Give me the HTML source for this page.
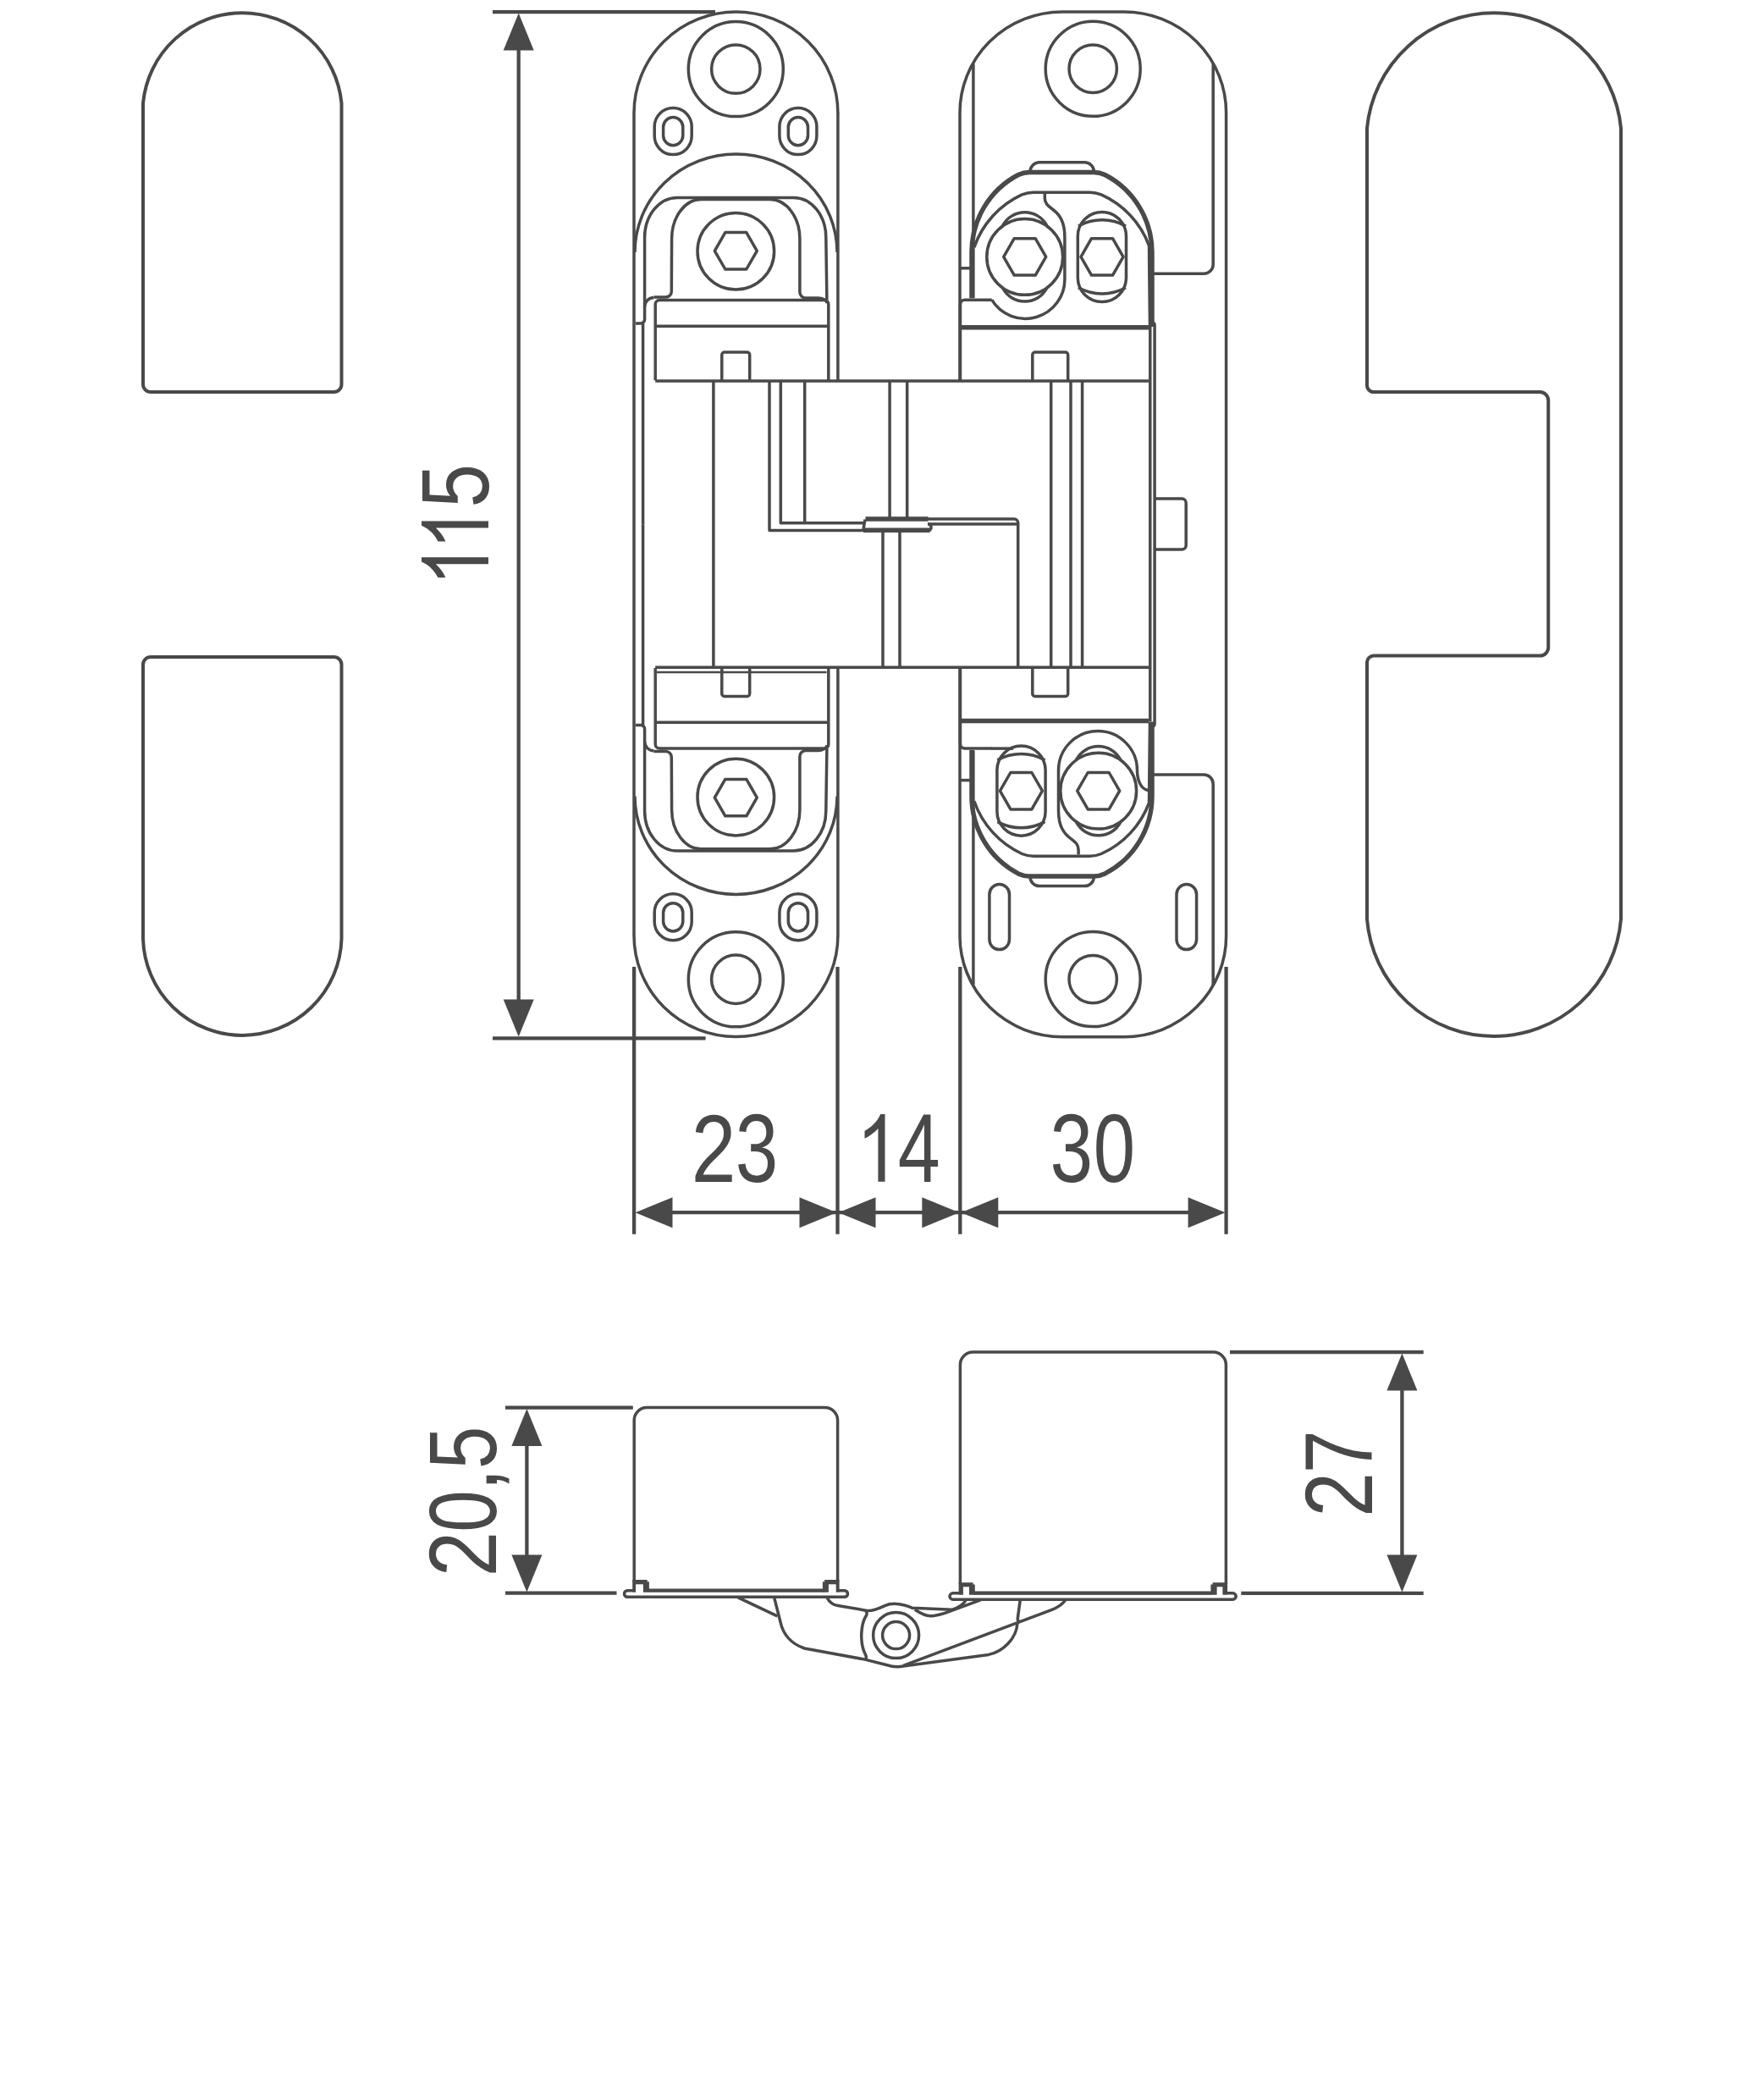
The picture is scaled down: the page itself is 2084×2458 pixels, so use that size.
<!DOCTYPE html>
<html><head><meta charset="utf-8">
<style>
html,body{margin:0;padding:0;background:#fff;}
body{width:2084px;height:2458px;overflow:hidden;}
svg{display:block;}
.s{fill:none;stroke:#494949;stroke-width:3.5;stroke-linejoin:round;}
.o{stroke-width:4;}
.d{stroke-width:4.3;}
.t{stroke-width:2.5;}
.k{stroke-width:5.5;}
.f{fill:#494949;stroke:none;}
text{font-family:"Liberation Sans",sans-serif;fill:#494949;}
</style></head>
<body>
<svg width="2084" height="2458" viewBox="0 0 2084 2458">
<g class="s o">
<path d="M169,454 L169,122 A117.76 117.76 0 0 1 403.5,122 L403.5,454 A9 9 0 0 1 394.5,463 L178,463 A9 9 0 0 1 169,454 Z"/>
<path d="M169,785 A9 9 0 0 1 178,776 L394.5,776 A9 9 0 0 1 403.5,785 L403.5,1109 A117.30 117.30 0 0 1 169,1109 Z"/>
<path d="M1615,454 L1615,151.5 A150.70 150.70 0 0 1 1915,151.5 L1915,1085.7 A150.50 150.50 0 0 1 1615,1085.7 L1615,782 A8 8 0 0 1 1623,774.6 L1819.5,774.6 A10 10 0 0 0 1829.2,765 L1829.2,473 A10 10 0 0 0 1819.5,463 L1623,463 A8 8 0 0 1 1615,454 Z"/>
</g>
<g class="s d">
<line x1="582" y1="14.2" x2="845" y2="14.2"/>
<line x1="582" y1="1226.3" x2="833.6" y2="1226.3"/>
<line x1="612.7" y1="50" x2="612.7" y2="1190"/>
<line x1="749.1" y1="1142" x2="749.1" y2="1457.7"/>
<line x1="989.5" y1="1142" x2="989.5" y2="1457.7"/>
<line x1="1134.3" y1="1142" x2="1134.3" y2="1457.7"/>
<line x1="1448.6" y1="1142" x2="1448.6" y2="1457.7"/>
<line x1="760" y1="1432.2" x2="1440" y2="1432.2"/>
<line x1="597" y1="1662.6" x2="747.8" y2="1662.6"/>
<line x1="597" y1="1881.6" x2="728.5" y2="1881.6"/>
<line x1="622.4" y1="1690" x2="622.4" y2="1850"/>
<line x1="1453" y1="1597.1" x2="1681.7" y2="1597.1"/>
<line x1="1466.3" y1="1881.8" x2="1681.7" y2="1881.8"/>
<line x1="1656.4" y1="1620" x2="1656.4" y2="1860"/>
</g>
<polygon class="f" points="612.7,15.5 630.7,59.5 594.7,59.5"/>
<polygon class="f" points="612.7,1224.5 594.7,1180.5 630.7,1180.5"/>
<polygon class="f" points="750.5,1432.2 794.5,1414.2 794.5,1450.2"/>
<polygon class="f" points="988.5,1432.2 944.5,1450.2 944.5,1414.2"/>
<polygon class="f" points="990.5,1432.2 1034.5,1414.2 1034.5,1450.2"/>
<polygon class="f" points="1133.3,1432.2 1089.3,1450.2 1089.3,1414.2"/>
<polygon class="f" points="1135.3,1432.2 1179.3,1414.2 1179.3,1450.2"/>
<polygon class="f" points="1447.6,1432.2 1403.6,1450.2 1403.6,1414.2"/>
<polygon class="f" points="622.4,1664.0 640.4,1708.0 604.4,1708.0"/>
<polygon class="f" points="622.4,1880.5 604.4,1836.5 640.4,1836.5"/>
<polygon class="f" points="1656.4,1598.5 1674.4,1642.5 1638.4,1642.5"/>
<polygon class="f" points="1656.4,1880.5 1638.4,1836.5 1674.4,1836.5"/>
<text font-size="100" transform="translate(816.76,1395.70) scale(0.9473,1.1400)">2</text>
<text font-size="100" transform="translate(868.77,1395.86) scale(0.9085,1.1423)">3</text>
<path class="f" transform="translate(1045.5,1395.7) scale(1,1.0000)" d="M-5.3,-79.6 L0,-79.6 L0,0 L-8.1,0 L-8.1,-62.6 C-12.5,-58 -18,-53.5 -24,-51 L-24,-60 C-16,-64 -9,-71 -5.3,-79.6 Z"/>
<text font-size="100" transform="translate(1060.76,1395.70) scale(0.8980,1.1536)">4</text>
<text font-size="100" transform="translate(1240.56,1395.86) scale(0.9106,1.1423)">3</text>
<text font-size="100" transform="translate(1291.85,1395.86) scale(0.8863,1.1423)">0</text>
<text font-size="100" transform="translate(577.07,599.60) rotate(-90) scale(0.9242,1.1300)">5</text>
<path class="f" transform="translate(577,615.4) rotate(-90) scale(1,0.9925)" d="M-5.3,-79.6 L0,-79.6 L0,0 L-8.1,0 L-8.1,-62.6 C-12.5,-58 -18,-53.5 -24,-51 L-24,-60 C-16,-64 -9,-71 -5.3,-79.6 Z"/>
<path class="f" transform="translate(577,658.2) rotate(-90) scale(1,0.9925)" d="M-5.3,-79.6 L0,-79.6 L0,0 L-8.1,0 L-8.1,-62.6 C-12.5,-58 -18,-53.5 -24,-51 L-24,-60 C-16,-64 -9,-71 -5.3,-79.6 Z"/>
<text font-size="100" transform="translate(585.97,1735.24) rotate(-90) scale(0.9095,1.1300)">5</text>
<text font-size="100" transform="translate(587.11,1761.30) rotate(-90) scale(0.9789,1.1435)">,</text>
<text font-size="100" transform="translate(585.97,1809.86) rotate(-90) scale(0.8905,1.1268)">0</text>
<text font-size="100" transform="translate(585.80,1862.19) rotate(-90) scale(0.9582,1.1243)">2</text>
<text font-size="100" transform="translate(1620.90,1740.18) rotate(-90) scale(0.9165,1.1275)">7</text>
<text font-size="100" transform="translate(1620.90,1791.84) rotate(-90) scale(0.9473,1.1314)">2</text>
<g class="s">
<g id="lhu">
<circle cx="869.3" cy="81.6" r="56"/>
<circle cx="869.3" cy="81.6" r="28.7"/>
<rect x="773.2" y="127.6" width="44.0" height="55.0" rx="22" ry="22"/>
<rect x="783.6" y="138.5" width="23.2" height="33.2" rx="11.6" ry="11.6"/>
<rect x="920.9" y="127.6" width="44.0" height="55.0" rx="22" ry="22"/>
<rect x="931.3" y="138.5" width="23.2" height="33.2" rx="11.6" ry="11.6"/>
<path d="M750,298 A119.5 116 0 0 1 989,298"/>
<path d="M751,381.9 L757,381.9 A4.6 4.6 0 0 0 761.6,377.3 L761.6,280.5 A38.5 47 0 0 1 800.2,233.4 L937.5,233.4 A38.3 47 0 0 1 975.8,280.5 L976.9,354.5"/>
<path d="M772.4,351 L786.5,351 A6.8 6.8 0 0 0 793.3,344.2 L793.6,282 A34.6 46.4 0 0 1 828.4,235.6 L909.5,235.6 A35.4 46.4 0 0 1 944.9,282 L944.9,345 A7 7 0 0 0 951.9,352 L966.5,352 A11 8 0 0 1 977.3,358"/>
<path d="M761.6,362.4 A10.8 10.8 0 0 1 772.4,351.6"/>
<circle cx="869.3" cy="296.8" r="45.3"/>
<polygon points="894.3,296.3 881.8,318.0 856.8,318.0 844.3,296.3 856.8,274.6 881.8,274.6"/>
<path d="M774.2,449.3 L774.2,359.5 A5 5 0 0 1 779.2,354.5 L973.8,354.5 A5 5 0 0 1 978.8,359.5 L978.8,449.3"/>
<line x1="774.2" y1="385.2" x2="978.8" y2="385.2"/>
<path d="M852.8,449.3 L852.8,419 A3 3 0 0 1 855.8,416 L882.7,416 A3 3 0 0 1 885.7,419 L885.7,449.3"/>
<line x1="989.9" y1="133" x2="989.9" y2="450"/>
<line x1="759.6" y1="382" x2="759.6" y2="619.2"/>
</g>
<path d="M749,1105.4 L749,133.5 A120 119 0 0 1 989.9,133.5"/>
<path d="M989.9,1105 A120 119 0 0 1 749,1105"/>
<use href="#lhu" transform="translate(0,1238.4) scale(1,-1)"/>
<line class="t" x1="776" y1="794" x2="976.5" y2="794"/>
<line x1="774.2" y1="450" x2="1357" y2="450"/>
<line x1="774.2" y1="788.3" x2="1357" y2="788.3"/>
<line x1="842.9" y1="450" x2="842.9" y2="788.3"/>
<path d="M909,450 L909,626.4 L1022,626.4"/>
<path d="M922.3,450 L922.3,617.7 L1021.8,617.7"/>
<line x1="950.7" y1="450" x2="950.7" y2="617.7"/>
<line x1="1051.1" y1="450" x2="1051.1" y2="613"/>
<line x1="1071.7" y1="450" x2="1071.7" y2="613"/>
<line x1="1043" y1="626.2" x2="1043" y2="788.3"/>
<line x1="1063" y1="626.2" x2="1063" y2="788.3"/>
<path class="k" d="M1022.5,613.1 L1096.5,613.1"/>
<path class="k" d="M1020,626.2 L1098.5,626.2"/>
<path d="M1022,613.5 L1020,625"/>
<path d="M1096,619 A4 4 0 0 1 1100,624 L1098,627"/>
<path d="M1096,613.1 L1198.3,613.1 A4.4 4.4 0 0 1 1202.7,617.5 L1202.7,788.3"/>
<line x1="1096" y1="618.9" x2="1202.7" y2="618.9"/>
<line x1="1241.7" y1="450" x2="1241.7" y2="788.3"/>
<line x1="1265" y1="450" x2="1265" y2="788.3"/>
<line x1="1278.6" y1="450" x2="1278.6" y2="788.3"/>
<line x1="1358.8" y1="386" x2="1358.8" y2="852"/>
<path d="M1361.5,381 A3 3 0 0 1 1364.1,384 L1364.1,855 A3 3 0 0 1 1361.5,858"/>
<path d="M1364.1,589 L1396.2,589 A5 5 0 0 1 1401.2,594 L1401.2,644 A5 5 0 0 1 1396.2,649 L1364.1,649"/>
<path d="M1134,450 L1134,133.5 A121 119 0 0 1 1255,14 L1328.2,14 A120.4 119 0 0 1 1448.6,133.5 L1448.6,1105 A120.4 119 0 0 1 1328.2,1224.7 L1255,1224.7 A121 119 0 0 1 1134,1105 L1134,788.3"/>
<circle cx="1291.2" cy="81.3" r="56"/>
<circle cx="1291.2" cy="81.3" r="28.2"/>
<circle cx="1291.2" cy="1156.6" r="56"/>
<circle cx="1291.2" cy="1156.6" r="28.2"/>
<rect x="1168.9" y="1044.5" width="23.6" height="77.1" rx="11.8" ry="11.8"/>
<rect x="1390.0" y="1044.5" width="23.6" height="77.1" rx="11.8" ry="11.8"/>
<g id="rhu">
<line x1="1149.9" y1="75.5" x2="1149.9" y2="352"/>
<path d="M1433.2,75.5 L1433.2,312.4 A10.9 10.9 0 0 1 1422.3,323.3 L1362,323.3"/>
<line x1="1134" y1="316.8" x2="1148" y2="316.8"/>
<path d="M1134.5,450 L1134.5,359.5 A5 5 0 0 1 1139.5,354.3 L1171.7,354.3"/>
<line class="k" x1="1136" y1="386.8" x2="1357" y2="386.8"/>
<path d="M1219.8,450 L1219.8,419 A3 3 0 0 1 1222.8,416 L1258.7,416 A3 3 0 0 1 1261.7,419 L1261.7,450"/>
</g>
<use href="#rhu" transform="translate(0,1238.4) scale(1,-1)"/>
<g id="rbo">
<path d="M1217,202.7 A11 11 0 0 1 1228,191.8 L1281.4,191.8 A11 11 0 0 1 1292.4,202.7"/>
<path class="k" d="M1148,352.3 L1148,297.7 A103 103 0 0 1 1203.0,206.5 Q1209.3,203.5 1216.3,203.5 L1292.1,203.5 Q1299.1,203.5 1305.4,206.5 A103 103 0 0 1 1361,297.7 L1361,386"/>
<path d="M1150.9,292.1 A106.9 106.9 0 0 1 1207.4,229.9 Q1213.9,227.2 1220.9,227.2 L1287.5,227.2 Q1294.5,227.2 1301.0,229.9 A106.9 106.9 0 0 1 1357.5,290.1 L1358.5,386"/>
</g>
<use href="#rbo" transform="translate(0,1238.4) scale(1,-1)"/>
<g id="rbs">
<path d="M1184.4,267 A29.4 29.4 0 0 1 1237,267 M1237,339.8 A29.4 29.4 0 0 1 1184.4,339.8"/>
<circle cx="1210.7" cy="303.4" r="44.9"/>
<polygon points="1235.7,303.4 1223.2,325.1 1198.2,325.1 1185.7,303.4 1198.2,281.7 1223.2,281.7"/>
<path d="M1273.3,279 L1273.3,328 A28.6 28.6 0 0 0 1330.5,328 L1330.5,279 A28.6 28.6 0 0 0 1273.3,279 Z"/>
<path d="M1274,267 A58 58 0 0 1 1330,267 M1330,339.8 A58 58 0 0 1 1274,339.8"/>
<polygon points="1327.0,303.4 1314.5,325.1 1289.5,325.1 1277.0,303.4 1289.5,281.7 1314.5,281.7"/>
</g>
<use href="#rbs" transform="rotate(180 1254.2 618.8)"/>
<path d="M1234.3,228 L1234.3,234 C1234.3,240 1238,243 1242,246 C1252,253 1257.9,262 1257.9,280 L1257.9,328.8 A46.5 46.5 0 0 1 1171.7,354.1"/>
<path d="M1274.1,1009.6 L1274.1,1003.6 C1274.1,997.6 1270.4,994.6 1266.4,991.6 C1256.4,984.6 1250.5,975.6 1250.5,957.6 L1250.5,910 A46.5 46.5 0 0 1 1343.5,910 C1343.5,922 1348,932 1356.5,933.5"/>
<line x1="1171" y1="884.1" x2="1197" y2="884.1"/>
</g>
<g class="s">
<path d="M749.2,1868 L749.2,1677.6 A15 15 0 0 1 764.2,1662.6 L974.6,1662.6 A15 15 0 0 1 989.6,1677.6 L989.6,1868"/>
<rect x="737.5" y="1878.7" width="264.0" height="7.6" rx="3.8" ry="3.8"/>
<line class="k" x1="765" y1="1878.5" x2="974" y2="1878.5" style="stroke-width:4.2"/>
<path class="f" d="M747.2,1866 L764.6999999999999,1866 L764.6999999999999,1868.3 L766.9,1868.3 L766.9,1880.5 L747.2,1880.5 Z"/>
<rect x="751.1" y="1871.3" width="8.8" height="10.0" fill="#fff" stroke="none"/>
<path class="f" d="M991.6,1866 L974.1,1866 L974.1,1868.3 L971.9,1868.3 L971.9,1880.5 L991.6,1880.5 Z"/>
<rect x="978.9" y="1871.3" width="8.8" height="10.0" fill="#fff" stroke="none"/>
<path d="M1134.4,1871 L1134.4,1612.1 A15 15 0 0 1 1149.4,1597.1 L1433.4,1597.1 A15 15 0 0 1 1448.4,1612.1 L1448.4,1871"/>
<rect x="1122.0" y="1881.8" width="338.2" height="7.4" rx="3.8" ry="3.8"/>
<line class="k" x1="1150" y1="1881.6" x2="1432" y2="1881.6" style="stroke-width:4.2"/>
<path class="f" d="M1132.6,1869.2 L1149.6,1869.2 L1149.6,1871.5 L1151.8,1871.5 L1151.8,1883.6 L1132.6,1883.6 Z"/>
<rect x="1137.9" y="1874.3" width="7.1" height="10.1" fill="#fff" stroke="none"/>
<path class="f" d="M1450.1,1869.2 L1432.6000000000001,1869.2 L1432.6000000000001,1871.5 L1430.4,1871.5 L1430.4,1883.6 L1450.1,1883.6 Z"/>
<rect x="1437.6" y="1874.3" width="6.8" height="10.1" fill="#fff" stroke="none"/>
<line x1="871.9" y1="1886.9" x2="918.3" y2="1908.9"/>
<path d="M914.8,1887.5 L921.9,1915.5 C925,1930 933,1941 950.5,1947 L1021.9,1960.1 L1053,1968 C1058,1969 1062,1969 1067,1968 L1167.9,1954.4 C1185,1951 1201,1935 1201.9,1917.5"/>
<path d="M1205.3,1889.5 L1202.3,1911.5 C1202,1914 1203,1915.5 1205.5,1915.3"/>
<path d="M976.7,1886.5 C980,1893 985,1896 990,1896.6 L1024.3,1902.4 C1032,1903.5 1040,1899 1046,1896.4 C1052,1893.5 1064,1893 1078,1899.3 L1124.4,1901.3 C1132,1899 1138,1896 1141.4,1889.5"/>
<path d="M1022.5,1902.5 C1024,1904 1024.5,1906 1023.5,1908 C1017,1918 1015,1940 1022.5,1954.5 C1023.8,1957 1023.5,1959 1022,1960.5"/>
<path d="M1080.8,1901.3 C1088,1906 1094,1909 1099.9,1908.8 C1106,1908.5 1111,1907 1116.2,1905.4 L1158.4,1889.8"/>
<path d="M1067.2,1967.3 L1242.7,1901.3 C1249,1899 1255,1895 1259,1889.8"/>
<circle cx="1058.6" cy="1931.6" r="27"/>
<circle cx="1058.6" cy="1931.6" r="16"/>
</g>
</svg>
</body></html>
